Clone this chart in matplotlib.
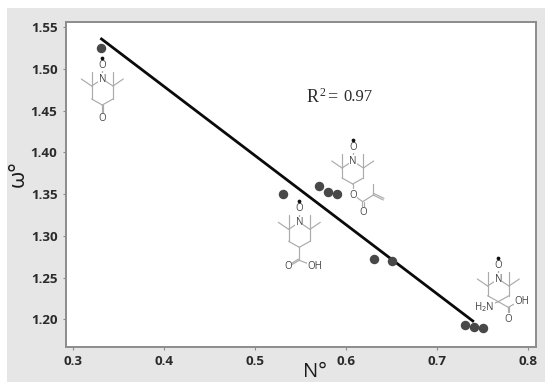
"""Scatter of omega vs N with the nitroxide structures drawn on top."""
import matplotlib
matplotlib.use("Agg")
import matplotlib.pyplot as plt
import matplotlib.patches as mpatches

W, H = 550, 391

n_values = [0.33, 0.53, 0.57, 0.58, 0.59, 0.63, 0.65, 0.73, 0.74, 0.75]
omega_values = [1.525, 1.35, 1.36, 1.352, 1.35, 1.272, 1.27, 1.193, 1.191, 1.19]
fit_n = [0.331, 0.739]
fit_omega = [1.536, 1.198]
x_ticks = [0.3, 0.4, 0.5, 0.6, 0.7, 0.8]
y_ticks = [1.20, 1.25, 1.30, 1.35, 1.40, 1.45, 1.50, 1.55]

BOND = "#ababab"
LABEL = "#444444"

fig = plt.figure(figsize=(W / 100, H / 100), dpi=100)
fig.patch.set_facecolor("white")

# overlay in picture pixels, for the grey panel and the molecule sketches
bg = fig.add_axes([0, 0, 1, 1], zorder=0)
bg.set_xlim(0, W)
bg.set_ylim(H, 0)
bg.axis("off")
bg.add_patch(mpatches.Rectangle((7, 8), 538, 373.5, facecolor="#e6e6e6", edgecolor="none"))

left, right, top, bottom = 65.7, 536, 22, 346.7
ax = fig.add_axes([left / W, 1 - bottom / H, (right - left) / W, (bottom - top) / H], zorder=1)
ax.set_facecolor("white")
ax.set_xlim(0.3 - 7.6 / 910, 0.8 + 7.7 / 910)
ax.set_ylim(1.20 - 27.4 / 834, 1.55 + 5.3 / 834)

ax.plot(fit_n, fit_omega, color="#0a0a0a", lw=2.0, zorder=2)
ax.plot(n_values, omega_values, "o", color="#484848", ms=5.8, mec="#484848", zorder=3)

ax.set_xticks(x_ticks)
ax.set_yticks(y_ticks)
ax.set_xticklabels([f"{t:.1f}" for t in x_ticks])
ax.set_yticklabels([f"{t:.2f}" for t in y_ticks])
ax.tick_params(length=2.5, width=0.8, color="#8a8a8a", labelcolor="#2a2a2a", pad=3.5)
for lab in ax.get_xticklabels() + ax.get_yticklabels():
    lab.set_fontfamily("Open Sans")
    lab.set_fontweight("bold")
    lab.set_fontsize(9.6)
for s in ax.spines.values():
    s.set_color("#8c8c8c")
    s.set_linewidth(1.4)

# molecules sit above the plot axes
top_ax = fig.add_axes([0, 0, 1, 1], zorder=2)
top_ax.set_xlim(0, W)
top_ax.set_ylim(H, 0)
top_ax.axis("off")
top_ax.patch.set_alpha(0)


def bond(p, q):
    top_ax.plot([p[0], q[0]], [p[1], q[1]], color=BOND, lw=0.85, solid_capstyle="round")


def atom(x, y, s, size=7):
    top_ax.text(x, y, s, ha="center", va="center", fontsize=size, color=LABEL,
                family="Open Sans", bbox=dict(boxstyle="square,pad=0.03", fc="white", ec="none"))


def ring(nx, ny, c4_dy=26):
    """Tetramethylpiperidine N-oxyl ring, returns the C4 position."""
    c2l, c2r = (nx - 10.7, ny + 7), (nx + 10.7, ny + 7)
    c3l, c3r = (nx - 10.7, ny + c4_dy - 6), (nx + 10.7, ny + c4_dy - 6)
    c4 = (nx, ny + c4_dy)
    for p, q in [((nx, ny), c2l), ((nx, ny), c2r), (c2l, c3l), (c2r, c3r), (c3l, c4), (c3r, c4),
                 (c2l, (nx - 21, ny)), (c2l, (nx - 10.7, ny - 7)),
                 (c2r, (nx + 21, ny)), (c2r, (nx + 10.7, ny - 7)), ((nx, ny), (nx, ny - 13))]:
        bond(p, q)
    atom(nx, ny, "N")
    atom(nx, ny - 13.5, "O")
    top_ax.plot([nx], [ny - 21], "o", color="#111111", ms=1.7, zorder=5)
    return c4


# 4-oxo
c4 = ring(102.3, 79)
bond((c4[0] - 0.8, c4[1]), (c4[0] - 0.8, c4[1] + 9))
bond((c4[0] + 0.8, c4[1]), (c4[0] + 0.8, c4[1] + 9))
atom(c4[0], c4[1] + 13.5, "O")

# 4-carboxy
c4 = ring(299.3, 222.3, 25)
c = (c4[0], c4[1] + 13)
bond(c4, c)
bond(c, (288.3, 266.7))
bond((c[0] - 0.8, c[1] - 1.2), (288.0, 265.5))
bond(c, (309, 264))
atom(288.3, 266.7, "O")
atom(315, 266.7, "OH")

# methacrylate
c4 = ring(352.7, 161, 23)
bond(c4, (352.7, 192))
atom(352.7, 195, "O")
bond((355.5, 196.5), (362.7, 201.7))
bond((362.7, 201.7), (373.3, 195))
bond((362, 201.7), (362, 208))
bond((363.6, 201.7), (363.6, 208))
atom(362.7, 212.3, "O")
bond((373.3, 195), (373.3, 184.3))
bond((373.3, 195), (383.3, 200))
bond((373.3, 193.2), (384, 198.4))

# amino acid
c4 = ring(498.3, 279, 22.7)
atom(484.3, 307.3, "H$_2$N")
bond(c4, (490, 305))
c = (508.3, 307.3)
bond(c4, c)
bond(c, (517, 302.5))
bond((507.5, 307.3), (507.5, 315))
bond((509.1, 307.3), (509.1, 315))
atom(508.3, 319, "O")
atom(521.5, 301.7, "OH")

# R squared, the 2 is a separate raised text in the reference
for tx, ty, s, fs in [(307, 97, "R", 13), (319.6, 92.5, "2", 8.5), (327.5, 97, "=", 13), (343, 97, "0.97", 12)]:
    top_ax.text(tx, ty, s, ha="left", va="center", fontsize=fs, color="#2a2a2a",
                family="Liberation Serif")

bg.text(18, 174, "ω°", rotation=90, ha="center", va="center", fontsize=16, color="#1a1a1a",
        family="Open Sans")
bg.text(315, 372, "N°", ha="center", va="center", fontsize=14.5, color="#1a1a1a",
        family="Open Sans")

fig.savefig("out.png", dpi=100)
plt.close(fig)
